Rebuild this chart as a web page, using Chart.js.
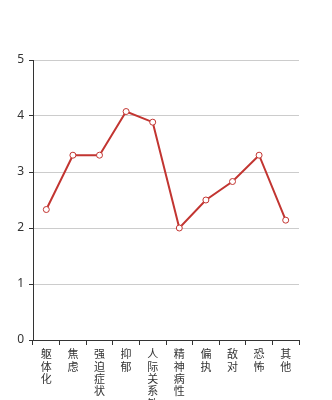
<!DOCTYPE html>
<html>
<head>
<meta charset="utf-8">
<script src="https://cdn.jsdelivr.net/npm/chart.js@4/dist/chart.umd.min.js"></script>
<style>
  html, body { margin: 0; padding: 0; background: #fff; overflow: hidden; }
  #wrap { width: 332px; height: 400px; }
</style>
</head>
<body>
<div id="wrap"><canvas id="lineChart"></canvas></div>
<script>
// factor names, one character per line
const categories = ['躯体化', '焦虑', '强迫症状', '抑郁', '人际关系敏感', '精神病性', '偏执', '敌对', '恐怖', '其他'];
const scores = [2.33, 3.30, 3.30, 4.08, 3.89, 2.00, 2.50, 2.83, 3.30, 2.14];
const yTicks = [0, 1, 2, 3, 4, 5];

const lineCtx = document.getElementById('lineChart').getContext('2d');
new Chart(lineCtx, {
    type: 'line',
    data: {
        labels: categories.map(c => c.split('')),
        datasets: [{
            data: scores,
            borderColor: '#c23531',
            borderWidth: 2,
            pointRadius: 3,
            pointBorderWidth: 1,
            pointBackgroundColor: '#fff',
            pointBorderColor: '#c23531',
            tension: 0,
            fill: false
        }]
    },
    options: {
        responsive: true,
        maintainAspectRatio: false,
        animation: false,
        layout: { padding: { top: 60, right: 33, left: 0, bottom: 0 } },
        plugins: { legend: { display: false }, tooltip: { enabled: false } },
        scales: {
            x: {
                offset: true,
                grid: { display: true, drawOnChartArea: false, offset: true, tickLength: 5, tickColor: '#333' },
                border: { color: '#333', width: 1 },
                ticks: {
                    color: '#333', padding: 3, maxRotation: 0, autoSkip: false,
                    font: { family: 'Noto Sans CJK SC', size: 11, lineHeight: '12.3px' }
                },
                afterFit: s => { s.height = 60; }
            },
            y: {
                min: 0, max: 5,
                afterBuildTicks: s => { s.ticks = yTicks.map(v => ({ value: v })); },
                grid: { color: '#ccc', tickLength: 4, tickColor: '#333' },
                border: { color: '#333', width: 1 },
                ticks: { color: '#333', padding: 5, font: { family: 'Noto Sans', size: 12 } },
                afterFit: s => { s.width = 33; }
            }
        }
    }
});
</script>
</body>
</html>
